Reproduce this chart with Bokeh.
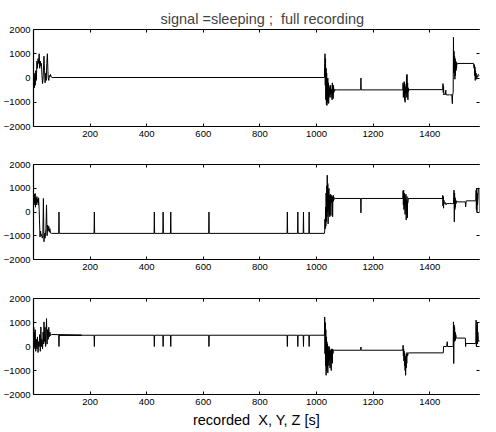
from bokeh.plotting import figure
from bokeh.layouts import column
from bokeh.models import LinearAxis, FixedTicker, Range1d
from bokeh.embed import file_html
from bokeh.resources import INLINE

# ---- data ----
title_text = "signal =sleeping ; \u00a0full recording"
xlabel_text = "recorded \u00a0X, Y, Z [s]"
x_ticks = [200, 400, 600, 800, 1000, 1200, 1400]
y_ticks = [-2000, -1000, 0, 1000, 2000]

# channel X
tx = [0, 2, 3, 5, 6, 8, 10, 12, 14, 16, 18, 20, 22, 24, 26, 28, 30, 32, 34, 37, 39, 41, 43, 45, 47, 49,
      51, 52, 54, 56, 58, 60, 62, 66,
      1028, 1029, 1030, 1031, 1032, 1033, 1034, 1035, 1036, 1037, 1038, 1039, 1040, 1041, 1042, 1043,
      1044, 1045, 1046, 1047, 1048, 1049, 1050, 1051, 1052, 1053, 1054, 1055, 1056, 1057, 1058, 1059,
      1060, 1061, 1062, 1063, 1066, 1070,
      1156, 1157, 1158,
      1305, 1306, 1307, 1308, 1309, 1310, 1311, 1312, 1313, 1314, 1315, 1316, 1317, 1318, 1319, 1320,
      1321, 1322, 1323, 1324, 1325, 1327,
      1446, 1447, 1448, 1449, 1450, 1452, 1455, 1457, 1458, 1465, 1470, 1475, 1478, 1480, 1481,
      1483, 1484, 1485, 1486, 1487, 1488, 1489, 1490, 1491, 1492, 1493, 1494, 1495, 1496, 1498, 1500,
      1555, 1557, 1558, 1559, 1560, 1561, 1562, 1563, 1564, 1566, 1568, 1570, 1572, 1576]
vx = [-300, 100, -400, 200, -300, 300, -100, 700, 400, 800, 600, 1000, 400, 700, 500, 600, 100, -230, 0,
      900, 300, -200, 200, -100, 600, 1000, 300, 0, -100, 100, 50, 150, 50, 20,
      20, 600, 1000, -300, 800, -900, 400, -1100, 200, -1130, -100, -1000, 0, -900, -200, -1050,
      -300, -800, -400, -700, -450, -650, -300, -800, -500, -600, -450, -900, -200, -700, -400, -850,
      -300, -600, -450, -550, -480, -490,
      -490, 0, -490,
      -490, -200, -800, -300, -700, -150, -900, -250, -1000, -400, -600, -350, -650, 100, -800, 150,
      -700, -200, -900, -400, -550, -480,
      -480, -230, -600, -350, -700, -650, -690, -500, -690, -700, -690, -700, -690, -1060, -700,
      -600, 1680, 200, 1100, 300, 900, -50, 800, 100, 700, 300, 650, 400, 620, 580, 600,
      600, 400, 550, 100, 450, -100, 300, 0, 200, -50, 100, 50, 150, 100]

# channel Y
ty = [0, 1, 2, 3, 4, 6, 7, 8, 10, 12, 13, 15, 17, 18, 20, 21, 23, 25, 27, 29, 31, 33, 35, 37, 39, 41,
      44, 46, 48, 50, 52, 54, 56, 58, 60, 64,
      89, 90, 91, 214, 215, 216, 426, 427, 428, 457, 458, 459, 484, 485, 486, 619, 620, 621,
      896, 897, 898, 933, 934, 935, 953, 954, 955, 973, 974, 975,
      1028, 1029, 1030, 1031, 1032, 1033, 1034, 1035, 1036, 1037, 1038, 1039, 1040, 1041, 1042, 1043,
      1044, 1045, 1046, 1047, 1048, 1049, 1050, 1051, 1052, 1053, 1054, 1055, 1056, 1057, 1058, 1059,
      1060, 1061, 1063, 1066,
      1156, 1157, 1158,
      1305, 1306, 1307, 1308, 1309, 1310, 1311, 1312, 1313, 1314, 1315, 1316, 1317, 1318, 1319, 1320,
      1321, 1322, 1323, 1325, 1327,
      1445, 1446, 1447, 1448, 1449, 1450, 1452, 1455, 1458, 1460, 1470, 1480,
      1484, 1485, 1486, 1487, 1488, 1489, 1490, 1491, 1492, 1493, 1495, 1500,
      1526, 1527, 1529, 1530,
      1563, 1564, 1565, 1566, 1567, 1568, 1569, 1570, 1572, 1575, 1576]
vy = [500, 700, 300, 750, 400, 780, 200, 600, 300, 650, 400, 550, 300, 600, 100, -300, -1050, -800, -1000,
      -950, -1100, -1000, 570, -1250, -900, -1100, -700, 300, -1000, -550, -800, -600, -850, -700, -880, -900,
      -900, 0, -900, -900, 0, -900, -900, 0, -900, -900, 0, -900, -900, 0, -900, -900, 0, -900,
      -900, 0, -900, -900, 0, -900, -900, 0, -900, -900, 0, -900,
      -900, -800, -300, -700, 200, -600, 800, -400, 1100, -200, 1550, 0, 1200, -500, 900, 100,
      1000, -100, 700, -200, 600, 300, 750, -150, 650, 400, 700, 450, 650, -200, 600, 450,
      700, 500, 600, 570,
      570, -40, 570,
      570, 900, 300, 920, 100, 800, 200, 700, -100, 600, 300, 750, -340, 500, 150, 650,
      -250, 450, 400, 580, 570,
      570, 700, 250, 650, 160, 500, 350, 400, 300, 355, 360, 350,
      350, 700, 920, -415, 800, 100, 600, 200, 500, 350, 450, 425,
      425, 215, 470, 470,
      470, 920, 100, 1000, 0, 800, 300, 500, 1000, 1000, 0]

# channel Z
tz = [0, 1, 2, 3, 5, 6, 8, 10, 12, 14, 16, 18, 20, 22, 24, 26, 28, 30, 32, 34, 36, 37, 39, 41, 43, 46,
      48, 50, 52, 54, 56, 58, 60, 64, 170,
      89, 90, 91, 214, 215, 216, 426, 427, 428, 457, 458, 459, 484, 485, 486, 619, 620, 621,
      896, 897, 898, 933, 934, 935, 953, 954, 955, 973, 974, 975,
      1028, 1029, 1030, 1031, 1032, 1033, 1034, 1035, 1036, 1037, 1038, 1039, 1040, 1041, 1042, 1043,
      1044, 1045, 1046, 1047, 1048, 1049, 1050, 1051, 1052, 1053, 1054, 1055, 1056, 1057, 1058, 1060, 1065,
      1156, 1157, 1158,
      1305, 1306, 1307, 1308, 1309, 1310, 1311, 1312, 1313, 1314, 1315, 1316, 1317, 1318, 1319, 1320,
      1322, 1324, 1327,
      1448, 1449, 1460, 1462, 1463, 1480,
      1483, 1484, 1485, 1486, 1487, 1488, 1489, 1490, 1491, 1492, 1494, 1497,
      1526, 1527, 1528,
      1562, 1563, 1564, 1565, 1566, 1567, 1568, 1569, 1570, 1572, 1574, 1576]
vz = [300, 800, -100, 600, 0, 700, -200, 300, -100, 400, -250, 200, 0, 500, -200, 815, 0, 300, -100, 600,
      100, 1025, 200, 800, 0, 1165, 100, 700, 300, 800, 400, 600, 450, 500, 470,
      470, 0, 470, 470, 0, 470, 470, 0, 470, 470, 0, 470, 470, 0, 470, 470, 0, 470,
      470, 0, 470, 470, 0, 470, 470, 0, 470, 470, 0, 470,
      470, 1230, -300, 1000, -800, 700, -1200, 400, -1000, 200, -900, 100, -1100, 0, -700, -200,
      -800, 0, -600, -100, -900, -150, -500, -200, -1000, -100, -400, -150, -700, -100, -300, -150, -155,
      -155, -20, -155,
      -155, 50, -400, -100, -600, -200, -800, -300, -1000, -400, -1200, -500, -900, -300, -700, -250,
      -400, -270, -265,
      -265, 0, 0, 200, 0, 0,
      0, 1025, -710, 900, 200, 800, 300, 600, 250, 500, 350, 350,
      350, 0, 125,
      125, 125, 1100, 0, 900, 200, 1000, 100, 600, 300, 200, 250]

channels = [(tx, vx), (ty, vy), (tz, vz)]

FONT = "Liberation Sans"
# (height, border_top, border_bottom) per panel
layout_spec = [(150, 29, 24), (138, 14, 29), (143, 10, 37)]

figs = []
for i, ((t, v), (h, bt, bb)) in enumerate(zip(channels, layout_spec)):
    p = figure(width=480, height=h, output_backend="svg", toolbar_location=None,
               x_range=Range1d(0, 1576), y_range=Range1d(-2000, 2000),
               min_border_left=28, min_border_right=1, min_border_top=bt, min_border_bottom=bb,
               x_axis_location=None, y_axis_location=None)
    p.background_fill_color = "white"
    p.border_fill_color = "white"
    p.outline_line_color = None
    p.xgrid.visible = False
    p.ygrid.visible = False

    for side in ["below", "above"]:
        ax = LinearAxis(ticker=FixedTicker(ticks=x_ticks))
        ax.major_tick_in = 3
        ax.major_tick_out = 0
        ax.minor_tick_line_color = None
        ax.axis_line_color = "black"
        ax.axis_line_width = 1.2
        ax.major_tick_line_color = "black"
        if side == "below":
            ax.major_label_text_font = FONT
            ax.major_label_text_font_size = "9.5px"
            ax.major_label_text_color = "black"
            ax.major_label_standoff = 4
            if i == 2:
                ax.axis_label = xlabel_text
                ax.axis_label_text_font = FONT
                ax.axis_label_text_font_size = "14.5px"
                ax.axis_label_text_font_style = "normal"
                ax.axis_label_text_color = "black"
                ax.axis_label_standoff = 4
        else:
            ax.major_label_text_font_size = "1px"
            ax.major_label_text_color = None
            ax.major_label_standoff = 0
        p.add_layout(ax, side)

    for side in ["left", "right"]:
        ay = LinearAxis(ticker=FixedTicker(ticks=y_ticks))
        ay.major_tick_in = 3
        ay.major_tick_out = 0
        ay.minor_tick_line_color = None
        ay.major_tick_line_color = "black"
        if side == "left":
            ay.axis_line_color = "black"
            ay.axis_line_width = 1.2
            ay.major_label_text_font = FONT
            ay.major_label_text_font_size = "9.5px"
            ay.major_label_text_color = "black"
            ay.major_label_standoff = 3
        else:
            ay.axis_line_color = None
            ay.major_label_text_font_size = "1px"
            ay.major_label_text_color = None
            ay.major_label_standoff = 0
        p.add_layout(ay, side)

    if i == 0:
        p.title.text = title_text
        p.title.align = "left"
        p.title.offset = 127
        p.title.text_font = FONT
        p.title.text_font_size = "14.5px"
        p.title.text_font_style = "normal"
        p.title.standoff = 6

    p.line(t, v, line_color="black", line_width=1)
    figs.append(p)

layout = column(*figs, spacing=0)
open("out.html", "w").write(file_html(layout, INLINE))
